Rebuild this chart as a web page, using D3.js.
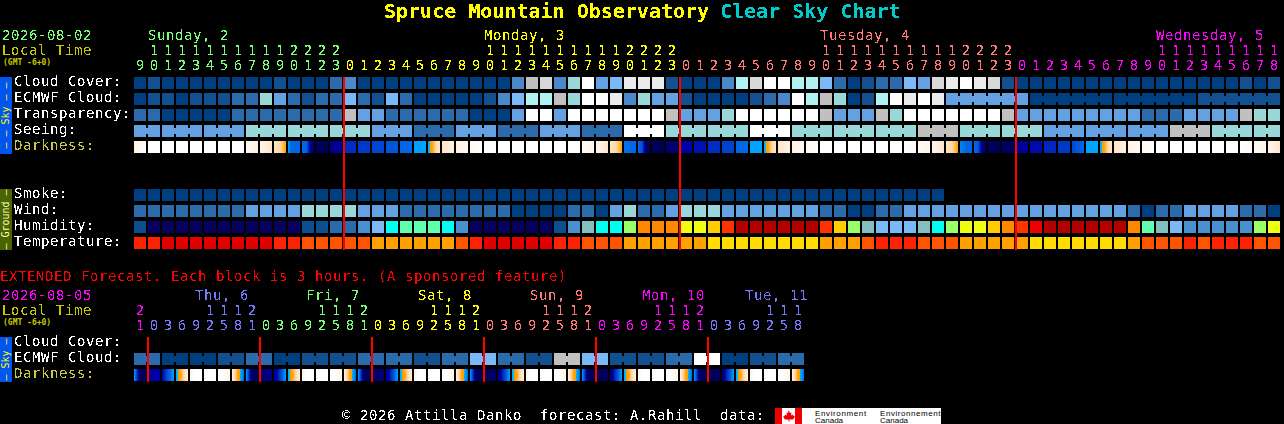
<!DOCTYPE html>
<html><head><meta charset="utf-8">
<script src="https://d3js.org/d3.v7.min.js"></script>
<style>
html,body{margin:0;padding:0;background:#000;overflow:hidden}
text{font-family:"DejaVu Sans Mono",monospace;white-space:pre}
</style></head><body>
<svg id="c" width="1284" height="424"></svg>
<script>
// ---------- data ----------
const hours = [9,10,11,12,13,14,15,16,17,18,19,20,21,22,23,
 0,1,2,3,4,5,6,7,8,9,10,11,12,13,14,15,16,17,18,19,20,21,22,23,
 0,1,2,3,4,5,6,7,8,9,10,11,12,13,14,15,16,17,18,19,20,21,22,23,
 0,1,2,3,4,5,6,7,8,9,10,11,12,13,14,15,16,17,18];
const dayNames = ["Sunday, 2","Monday, 3","Tuesday, 4","Wednesday, 5"];
const dateMain = "2026-08-02", dateExt = "2026-08-05";
const cloudCover = [0,1,0,0,0,0,0,0,0,0,1,0,0,0,2,3,0,0,0,0,0,0,0,0,0,0,0,3,8,9,3,6,11,4,5,10,10,10,1,0,0,0,3,7,9,11,11,7,7,5,2,0,1,2,2,5,4,9,10,11,10,9,1,0,0,0,0,0,0,0,0,0,0,0,0,0,0,0,0,1,0,1];
const ecmwfCloud = [0,1,1,0,1,1,1,2,2,6,4,2,1,2,2,5,2,1,5,2,0,0,0,0,0,1,3,5,7,7,8,6,11,11,10,3,6,4,4,1,0,0,0,0,1,2,3,11,7,8,6,0,1,7,11,10,11,10,4,4,4,4,4,4,0,0,0,0,0,0,0,0,0,0,0,0,1,1,1,1,1,1];
const transparency = [2,2,0,0,0,0,0,2,2,2,2,2,2,2,2,8,4,4,2,2,2,2,2,2,0,0,0,4,11,11,4,11,11,11,11,11,11,11,8,4,4,4,6,11,11,11,11,11,11,8,4,4,4,8,6,11,11,11,11,11,11,11,8,4,4,4,4,4,4,4,4,4,2,2,2,4,4,4,4,8,6,6];
const seeing = [4,4,4,4,4,4,4,4,6,6,6,6,6,6,6,6,6,4,4,4,2,2,2,4,4,4,2,2,2,4,4,4,2,2,2,11,11,11,6,6,6,6,6,6,11,11,11,6,6,6,6,6,6,6,6,6,8,8,8,6,6,6,6,6,6,4,4,4,4,4,4,4,4,4,8,8,8,6,6,6,6,6];
const darkness = [[7,8],[8],[8],[8],[8],[8],[8],[8,7.8],[7.5,7],[7.2,6.5],[6.5,6,5],[4,3,3,3,3],[3,3,1,0],[0],[0.5,1],
 [1.8],[2],[2.3],[2.6],[3],[3.9,4],[4,5,6,6.5],[6.5,7],[7,7.5],[7.5,8],[8],[8],[8],[8],[8],[8],[8,7.8],[7.6,7.2],[7.2,6.5],[6.5,6,5],[3.2,3,3],[3,2.5,0,0],[0],[0.3],
 [1],[1.3],[1.8],[2.2],[3],[4],[4,5,6,6.5],[6.5,7],[7,7.5],[7.5,8],[8],[8],[8],[8],[8],[8],[8,7.7],[7.6,7.2],[7.2,6.5],[6.5,6,5],[3.5,3,3],[3,2.7,0.5,0],[0],[0.1],
 [0.8],[1.2],[1.7],[2],[2.3,3],[4],[4,5,6,6.5],[6.5,7],[7,7.5],[7.5,8],[8],[8],[8],[8],[8],[8],[8,7.7],[7.6,7.2],[7.2,6.5]];
const smoke = [0,0,0,0,0,0,0,0,0,0,0,0,0,0,0,0,0,0,0,0,0,0,0,0,0,0,0,0,0,0,0,0,0,0,0,0,0,0,0,0,0,0,0,0,0,0,0,0,0,0,0,0,0,0,0,0,0,0];
const wind = [2,2,2,2,2,2,2,2,4,4,4,4,6,6,6,6,4,4,4,2,2,2,2,2,2,2,2,0,0,0,0,2,2,0,4,6,2,2,4,6,6,6,4,4,4,4,4,4,4,2,2,0,0,2,2,4,4,4,4,4,4,4,4,4,4,4,4,4,4,4,4,2,0,2,2,4,4,4,4,2,2,0];
const humidity = [1,0,0,0,0,0,0,0,0,0,0,0,1,1,2,2,3,4,6,7,7,7,6,3,0,0,0,0,0,0,1,3,5,6,6,8,11,11,11,9,9,10,12,14,14,14,14,14,14,12,10,8,5,4,4,4,5,6,8,9,9,10,11,12,13,14,14,14,14,14,14,11,7,5,4,3,3,3,3,3,8,9];
const temperature = [0,0,1,1,1,1,1,1,1,1,0,0,2,2,2,2,2,3,3,3,3,3,3,2,0,1,1,1,1,1,0,0,2,2,2,3,3,3,3,3,3,4,4,4,4,4,4,4,4,3,3,3,2,0,0,0,2,2,2,3,3,3,3,3,4,4,4,4,4,4,4,3,2,2,2,0,2,0,0,0,2,2];

const extHours = [21,0,3,6,9,12,15,18,21,0,3,6,9,12,15,18,21,0,3,6,9,12,15,18,21,0,3,6,9,12,15,18,21,0,3,6,9,12,15,18,21,0,3,6,9,12,15,18];
const extDayNames = ["Thu, 6","Fri, 7","Sat, 8","Sun, 9","Mon, 10","Tue, 11"];
const extEcmwf = [2,0,0,1,2,0,1,1,2,2,1,2,5,2,1,8,5,1,1,2,11,0,1,2];
const extDarkness = [[4,2,0,0,0],[0.6,1,1,1],[1,2,3,4],[4,5,6,7],[7,8,8,8],[8],[8,8,7.5,7],[7,6,5,4,3],
 [4,2,0,0,0],[0.2,0.5,0.5],[1,1,2,3,4],[4,5,6,7],[7,8,8,8],[8],[8,8,7.5,7],[7,6,5,4,3],
 [4,2,0,0,0],[0.2,0.3],[1,1,2,3,4],[4,5,6,7],[7,8,8,8],[8],[8,8,7.5,7],[7,6,5,4,3],
 [4,2,0,0,0],[0,0.2],[0.5,1,2,3,4],[4,5,6,7],[7,8,8,8],[8],[8,8,7.5,7],[7,6,5,4,3],
 [4,2,0,0,0],[0],[0.3,1,2,3,4],[4,5,6,7],[7,8,8,8],[8],[8,8,7.5,7],[7,6,5,4,3],
 [4,2,0,0,0],[0],[0.2,1,2,3,4],[4,5,6,7],[7,8,8,8],[8],[8,8,7.5,7],[7,6,5,4,3]];

// ---------- palettes ----------
const cloudPalette = ["#003f7f","#13508f","#2b6aab","#4a88c9","#63a1e3","#7ab8f8","#98d8d8","#b0f2f2","#c0c0c0","#d8d8d8","#ebebeb","#ffffff"];
const humidityPalette = ["#08005e","#0c4e90","#2b6aab","#4a8fd0","#7ab8f8","#84bfc0","#00ffee","#5fffb0","#99ff66","#eeff11","#ffcc00","#ff8800","#ff3300","#ee0000","#b50000"];
const temperaturePalette = ["#ff2200","#e00000","#ff5500","#ffa000","#ffdd00"];
const nightColor = d3.scaleLinear().domain([0,1,2,3,4]).range(["#00005a","#0000a8","#0038c8","#0068e8","#00a4ff"]);
const dayColor = d3.scaleLinear().domain([5,6,7,8]).range(["#ffa000","#ffd9a8","#fff2e4","#ffffff"]).clamp(true);
const darkColor = v => v<4.5 ? nightColor(v) : dayColor(v);
const C = {green:"#77ff77",yellow:"#ffff00",red:"#ff7777",magenta:"#ff00ff",blue:"#7777ff",olive:"#c8c800"};
const mainDayColors = [C.green,C.yellow,C.red,C.magenta];
const extDayColors = [C.magenta,C.blue,C.green,C.yellow,C.red,C.magenta,C.blue];

// ---------- helpers ----------
const svg = d3.select("#c");
const defs = svg.append("defs");
const f = defs.append("filter").attr("id","crisp").attr("x",0).attr("y",0).attr("width",1).attr("height",1)
  .attr("filterUnits","objectBoundingBox");
f.append("feComponentTransfer").append("feFuncA").attr("type","discrete").attr("tableValues","0 0 1 1");
svg.append("rect").attr("width",1284).attr("height",424).attr("fill","#000");
const cells = svg.append("g").attr("shape-rendering","crispEdges");
const labels = svg.append("g").attr("filter","url(#crisp)");
const small = svg.append("g");
const X0 = 134, STEP = 14, CELL = 12, FS = 14, LS = 0.57;
const band = n => { const s = d3.scaleBand().domain(d3.range(n)).range([X0, X0+n*STEP-(STEP-CELL)]).paddingInner((STEP-CELL)/STEP).paddingOuter(0);
  const r = i => Math.round(s(i)); r.bandwidth = () => CELL; return r; };
const x = band(82), xe = band(48);

function txt(s,px,py,fill){
  return labels.append("text").attr("x",px).attr("y",py).attr("fill",fill).attr("font-size",FS).attr("letter-spacing",LS).text(s);
}
function title(s,px,fill){
  return labels.append("text").attr("x",px).attr("y",18).attr("fill",fill).attr("font-size",20).attr("font-weight","bold").text(s);
}
function gmt(py){
  small.append("text").attr("x",3).attr("y",py).attr("fill","#c8c800").attr("font-size",8).attr("font-weight","bold").text("(GMT -6+0)");
}
function row(values, scaleX, y, palette, groupOf){
  cells.append("g").selectAll("rect").data(values).join("rect")
    .attr("x",(d,i)=>scaleX(i)).attr("y",y).attr("width",scaleX.bandwidth()).attr("height",CELL)
    .attr("fill",d=>palette[d]);
  if(groupOf){
    const links = d3.range(values.length-1).filter(i=>groupOf(i)!==null && groupOf(i)===groupOf(i+1));
    cells.append("g").selectAll("rect").data(links).join("rect")
      .attr("x",i=>scaleX(i)+CELL).attr("y",y+3).attr("width",STEP-CELL).attr("height",6)
      .attr("fill",i=>palette[values[i]]);
  }
}
function darkRow(values, scaleX, y){
  const px = d3.range(CELL);
  values.forEach((vals,i)=>{
    const val = vals.length>1 ? d3.piecewise(d3.interpolateNumber,vals) : ()=>vals[0];
    cells.append("g").selectAll("rect").data(px).join("rect")
      .attr("x",p=>scaleX(i)+p).attr("y",y).attr("width",1).attr("height",CELL)
      .attr("fill",p=>darkColor(val((p+0.5)/CELL)));
  });
}
function hourAxis(hs, scaleX, yTens, yUnits, colorAt){
  labels.append("g").selectAll("text").data(hs).join("text")
    .attr("x",(h,i)=>scaleX(i)+CELL/2).attr("y",yUnits).attr("text-anchor","middle")
    .attr("font-size",FS).attr("fill",(h,i)=>colorAt(i)).text(h=>h%10);
  labels.append("g").selectAll("text").data(hs.map((h,i)=>({h,i})).filter(d=>d.h>=10)).join("text")
    .attr("x",d=>scaleX(d.i)+CELL/2).attr("y",yTens).attr("text-anchor","middle")
    .attr("font-size",FS).attr("fill",d=>colorAt(d.i)).text(d=>Math.floor(d.h/10));
}
function sideBar(y,h,fill,color,s){
  cells.append("rect").attr("x",0).attr("y",y).attr("width",12).attr("height",h).attr("fill",fill);
  small.append("text").attr("transform",`translate(9,${y+h/2}) rotate(-90)`).attr("text-anchor","middle")
    .attr("font-size",10).attr("fill",color).text(s);
}
function redLines(scaleX, idxs, y0, y1){
  svg.append("g").attr("shape-rendering","crispEdges").selectAll("rect").data(idxs).join("rect")
    .attr("x",i=>scaleX(i)-1).attr("y",y0).attr("width",2).attr("height",y1-y0).attr("fill","#ff0000");
}

// ---------- title ----------
title("Spruce Mountain Observatory",384,"#ffff00");
title("Clear Sky Chart",720,"#00cccc");

// ---------- main header ----------
txt(dateMain,2,40,C.green);
txt("Local Time",2,55,C.olive);
gmt(65);
const mainDayIndex = i => i<15?0:i<39?1:i<63?2:3;
[1,25,49,73].forEach((idx,k)=>txt(dayNames[k],x(idx),40,mainDayColors[k]));
hourAxis(hours,x,55,70,i=>mainDayColors[mainDayIndex(i)]);

// ---------- main rows ----------
const rowY = {cloud:77,ecmwf:93,transp:109,seeing:125,dark:141,smoke:189,wind:205,hum:221,temp:237};
row(cloudCover,x,rowY.cloud,cloudPalette);
row(ecmwfCloud,x,rowY.ecmwf,cloudPalette,i=>i>=58?Math.floor((i-58)/6):null);
row(transparency,x,rowY.transp,cloudPalette);
row(seeing,x,rowY.seeing,cloudPalette,i=>Math.floor((i+1)/3));
darkRow(darkness,x,rowY.dark);
row(smoke,x,rowY.smoke,cloudPalette);
row(wind,x,rowY.wind,cloudPalette);
row(humidity,x,rowY.hum,humidityPalette);
row(temperature,x,rowY.temp,temperaturePalette);
[["Cloud Cover:",86,"#fff"],["ECMWF Cloud:",102,"#fff"],["Transparency:",118,"#fff"],["Seeing:",134,"#fff"],["Darkness:",150,"#c8c840"],
 ["Smoke:",198,"#fff"],["Wind:",214,"#fff"],["Humidity:",230,"#fff"],["Temperature:",246,"#fff"]]
 .forEach(([s,y,c])=>txt(s,14,y,c));
sideBar(77,77,"#0055ee","#ffff00","\u2013 \u2013 Sky \u2013 \u2013");
sideBar(189,61,"#4a6400","#ffffc0","\u2013 Ground \u2013");
redLines(x,[15,39,63],77,250);

// ---------- extended ----------
txt("EXTENDED Forecast. Each block is 3 hours. (A sponsored feature)",0,281,"#ff0000");
txt(dateExt,2,300,C.magenta);
txt("Local Time",2,315,C.olive);
gmt(325);
const extLabelPos = [195,306,418,530,642,745];
extDayNames.forEach((s,k)=>txt(s,extLabelPos[k],300,extDayColors[k+1]));
hourAxis(extHours,xe,315,330,i=>extDayColors[Math.floor((i+7)/8)]);
row(extEcmwf.flatMap(v=>[v,v]),xe,353,cloudPalette,i=>Math.floor(i/2));
darkRow(extDarkness,xe,369);
[["Cloud Cover:",346,"#fff"],["ECMWF Cloud:",362,"#fff"],["Darkness:",378,"#c8c840"]].forEach(([s,y,c])=>txt(s,14,y,c));
sideBar(337,45,"#0055ee","#ffff00","\u2013 Sky \u2013");
redLines(xe,[1,9,17,25,33,41],337,382);

// ---------- footer ----------
txt("\u00a9 2026 Attilla Danko  forecast: A.Rahill  data:",342,420,"#fff");
const foot = svg.append("g");
foot.append("rect").attr("x",775).attr("y",408).attr("width",166).attr("height",16).attr("fill","#fff").attr("shape-rendering","crispEdges");
foot.append("rect").attr("x",775).attr("y",408).attr("width",7).attr("height",16).attr("fill","#ee0000").attr("shape-rendering","crispEdges");
foot.append("rect").attr("x",795).attr("y",408).attr("width",7).attr("height",16).attr("fill","#ee0000").attr("shape-rendering","crispEdges");
foot.append("path").attr("d","M788.5 410l1.500 3 1.500-.5-.5 3 2-1 .5 1.500 1.500.5-2 3h-3.500v2h-1v-2h-3.500l-2-3 1.500-.5.5-1.500 2 1-.5-3 1.500 .5z").attr("fill","#ee0000");
[[815,"Environment","Canada"],[880,"Environnement","Canada"]].forEach(([px,a,b])=>{
  foot.append("text").attr("x",px).attr("y",416).attr("font-size",8).attr("fill","#000").attr("style","font-family:'Liberation Sans'").attr("textLength",a.length*4.65).text(a);
  foot.append("text").attr("x",px).attr("y",423).attr("font-size",8).attr("fill","#000").attr("style","font-family:'Liberation Sans'").text(b);
});
</script>
</body></html>
